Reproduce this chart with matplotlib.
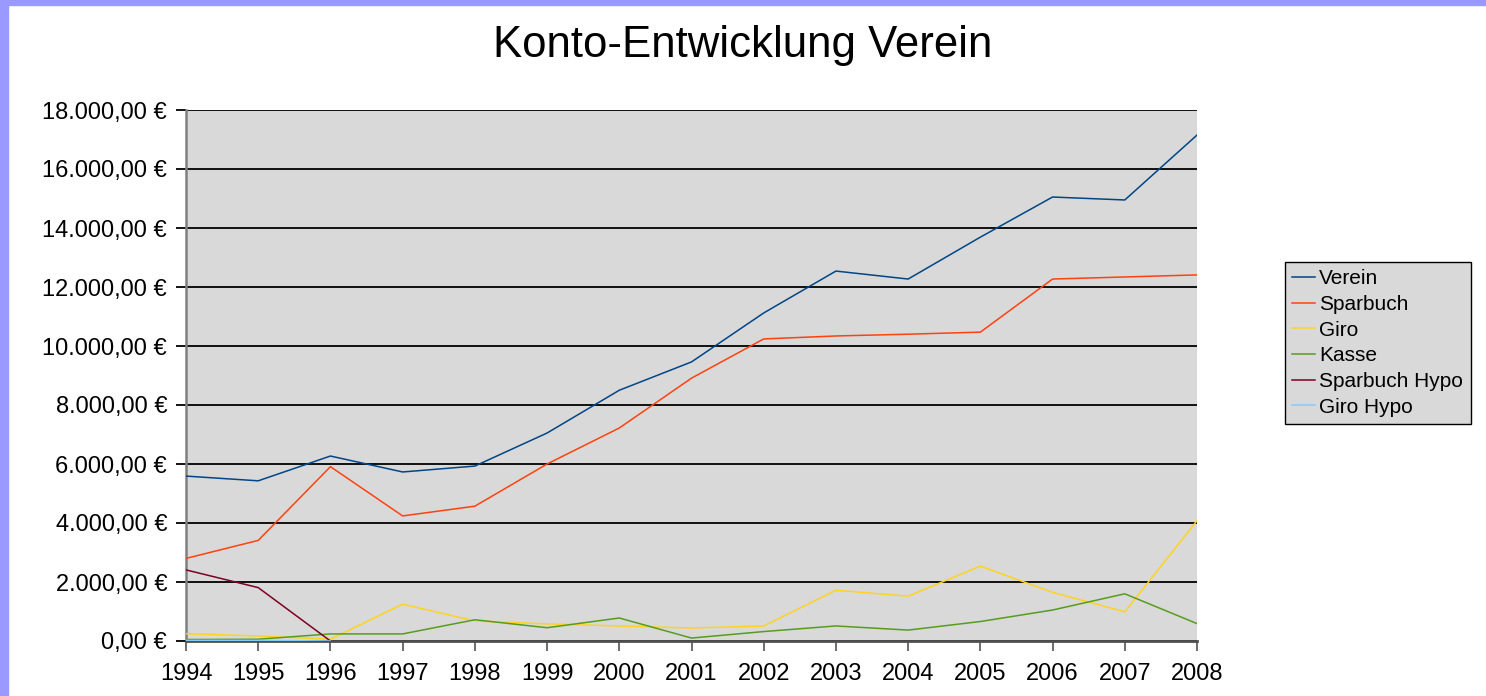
import numpy as np
import matplotlib
matplotlib.use("Agg")
import matplotlib.pyplot as plt
from matplotlib.patches import Rectangle
from matplotlib.ticker import FuncFormatter

plt.rcParams['font.family'] = ['Liberation Sans', 'DejaVu Sans']

years = list(range(1994, 2009))
verein = [5590, 5430, 6270, 5730, 5930, 7050, 8500, 9460, 11120, 12540, 12270, 13690, 15050, 14950, 17150]
sparbuch = [2800, 3410, 5910, 4240, 4570, 6000, 7220, 8910, 10240, 10340, 10400, 10470, 12270, 12340, 12410]
giro = [250, 170, 60, 1250, 680, 580, 510, 440, 510, 1720, 1520, 2540, 1650, 990, 4080]
kasse = [50, 60, 240, 240, 720, 450, 780, 100, 320, 510, 370, 660, 1050, 1600, 590]
sparbuch_hypo = [2410, 1810, 0] + [np.nan] * 12
giro_hypo = [20, 20, 0] + [np.nan] * 12

series = [
    ("Verein", verein, "#004586"),
    ("Sparbuch", sparbuch, "#ff420e"),
    ("Giro", giro, "#ffd320"),
    ("Kasse", kasse, "#579d1c"),
    ("Sparbuch Hypo", sparbuch_hypo, "#7e0021"),
    ("Giro Hypo", giro_hypo, "#83caff"),
]

fig = plt.figure(figsize=(14.86, 6.96), dpi=100)
fig.patch.set_facecolor("white")
# lavender border
fig.patches.append(Rectangle((0, 0), 8/1486, 1, transform=fig.transFigure, color="#9999ff", zorder=0))
fig.patches.append(Rectangle((0, 1 - 5/696), 1, 5/696, transform=fig.transFigure, color="#9999ff", zorder=0))

ax = fig.add_axes([186/1486, 1 - 641/696, (1197-186)/1486, (641-110)/696])
ax.set_facecolor("#d9d9d9")

for name, vals, col in series:
    ax.plot(years, vals, color=col, lw=1.1, label=name, zorder=3)

ax.set_xlim(1994, 2008)
ax.set_ylim(0, 18000)
ax.set_yticks(np.arange(0, 18001, 2000))
ax.set_xticks(years)
ax.yaxis.set_major_formatter(FuncFormatter(
    lambda v, p: f"{v:,.2f}".replace(",", "X").replace(".", ",").replace("X", ".") + " €"))
ax.grid(axis="y", color="black", lw=1.3, zorder=1)
ax.set_axisbelow(True)
for s in ["top", "right"]:
    ax.spines[s].set_visible(False)
ax.spines["left"].set_color("#808080")
ax.spines["left"].set_linewidth(1.8)
ax.spines["bottom"].set_color("#505050")
ax.spines["bottom"].set_linewidth(2)
ax.tick_params(axis="y", direction="out", length=7.5, width=1.3, color="black", labelsize=17, pad=6)
ax.tick_params(axis="x", direction="out", length=7.5, width=1.3, color="#606060", labelsize=17, pad=8)

fig.text(0.5, 1 - 46/696, "Konto-Entwicklung Verein", ha="center", va="center", fontsize=31.5)

leg = ax.legend(loc="center left", bbox_to_anchor=(1285/1486, 1 - 343/696), bbox_transform=fig.transFigure,
                frameon=True, fancybox=False, fontsize=15, handlelength=1.1, handletextpad=0.2,
                labelspacing=0.32, borderpad=0.35, borderaxespad=0)
leg.get_frame().set_facecolor("#d9d9d9")
leg.get_frame().set_edgecolor("black")
leg.get_frame().set_linewidth(1)
leg.get_frame().set_alpha(1)

fig.savefig("out.png", dpi=100)
